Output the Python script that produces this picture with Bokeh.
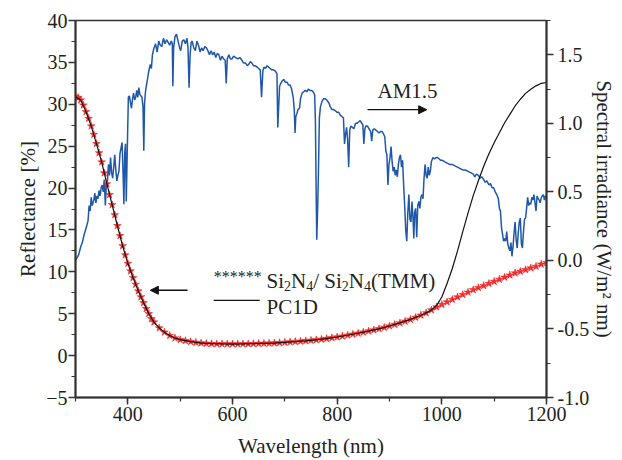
from bokeh.plotting import figure
from bokeh.models import (Range1d, LinearAxis, SingleIntervalTicker, NumeralTickFormatter,
                          Label, Arrow, NormalHead)
from bokeh.embed import file_html
from bokeh.resources import INLINE

# ---------------- data ----------------
wl_tmm = [300, 305, 310, 315, 320, 325, 330, 335, 340, 345, 350, 355, 360, 365, 370, 375,
          380, 385, 390, 395, 400, 405, 410, 415, 420, 425, 430, 435, 440, 445, 450,
          460, 470, 480, 490, 500, 510, 520, 530, 540, 550, 560, 570, 580, 590, 600,
          610, 620, 630, 640, 650, 660, 670, 680, 690, 700, 710, 720, 730, 740, 750,
          760, 770, 780, 790, 800, 810, 820, 830, 840, 850, 860, 870, 880, 890, 900,
          910, 920, 930, 940, 950, 960, 970, 980, 990, 1000, 1010, 1020, 1030, 1040,
          1050, 1060, 1070, 1080, 1090, 1100, 1110, 1120, 1130, 1140, 1150, 1160, 1170,
          1180, 1190, 1200]
refl_tmm = [30.9, 30.8, 30.5, 29.9, 29.1, 28.3, 27.4, 26.4, 25.3, 24.2, 23.1, 21.8, 20.5,
            19.2, 18.0, 16.8, 15.5, 14.3, 13.1, 12.0, 11.0, 10.1, 9.3, 8.5, 7.7, 7.0, 6.3,
            5.6, 5.0, 4.4, 4.0, 3.3, 2.8, 2.4, 2.1, 1.9, 1.78, 1.66, 1.57, 1.5, 1.45, 1.42,
            1.4, 1.39, 1.38, 1.38, 1.38, 1.39, 1.4, 1.42, 1.44, 1.46, 1.48, 1.5, 1.54, 1.58,
            1.62, 1.67, 1.72, 1.77, 1.82, 1.88, 1.95, 2.03, 2.12, 2.22, 2.32, 2.43, 2.55,
            2.67, 2.8, 2.93, 3.06, 3.2, 3.36, 3.53, 3.71, 3.9, 4.1, 4.32, 4.56, 4.82, 5.1,
            5.45, 5.8, 6.1, 6.4, 6.7, 7.0, 7.28, 7.56, 7.85, 8.1, 8.35, 8.6, 8.85, 9.1,
            9.35, 9.6, 9.85, 10.05, 10.25, 10.45, 10.65, 10.9, 11.1]

wl_pc1d = [300, 310, 320, 330, 340, 350, 360, 370, 380, 390, 400, 410, 420, 430, 440, 450,
           460, 470, 480, 490, 500, 520, 540, 560, 580, 600, 620, 640, 660, 680, 700, 720,
           740, 760, 780, 800, 820, 840, 860, 880, 900, 920, 940, 960, 970, 980, 990, 1000,
           1010, 1020, 1030, 1040, 1050, 1060, 1070, 1080, 1090, 1100, 1110, 1120, 1130,
           1140, 1150, 1160, 1170, 1180, 1190, 1200]
refl_pc1d = [30.9, 30.5, 29.1, 27.4, 25.3, 23.1, 20.5, 18.0, 15.5, 13.1, 11.0, 9.3, 7.7, 6.3,
             5.0, 4.0, 3.3, 2.8, 2.4, 2.1, 1.9, 1.66, 1.5, 1.42, 1.39, 1.38, 1.39, 1.42, 1.46,
             1.5, 1.58, 1.67, 1.77, 1.88, 2.03, 2.22, 2.43, 2.67, 2.93, 3.2, 3.53, 3.9, 4.32,
             4.82, 5.1, 5.45, 6.0, 7.0, 8.6, 10.4, 12.5, 14.8, 17.0, 19.1, 20.9, 22.6, 24.1,
             25.4, 26.6, 27.8, 28.8, 29.8, 30.6, 31.3, 31.8, 32.2, 32.5, 32.6]

wl_am = [300, 303, 306, 310, 313, 316, 319, 322, 324, 326, 328, 330, 332, 335, 337, 339, 341,
         343, 345, 347, 349, 351, 353, 355, 357, 359, 361, 363, 365, 367, 369, 371, 373, 375,
         377, 379, 381, 383, 385, 387, 389, 391, 392.5, 394, 395.5, 397, 399, 401, 403, 405,
         407, 409, 411, 413, 415, 417, 419, 421, 423, 425, 427, 429, 430.5, 432, 434, 437,
         440, 443, 445, 447, 450, 453, 456, 459, 462, 465, 468, 471, 474, 477, 480, 483, 485,
         486, 487.5, 490, 493, 496, 499, 501, 504, 507, 510, 513, 515, 517, 519, 521, 523,
         526, 529, 532, 535, 538, 541, 544, 547, 550, 553, 556, 559, 562, 565, 568, 571, 574,
         577, 580, 583, 586, 588, 590, 593, 596, 599, 602, 606, 610, 614, 618, 621, 625, 628,
         631, 634, 637, 640, 644, 647, 650, 653, 655.5, 658, 660, 663, 666, 669, 672, 675,
         678, 682, 685, 686.5, 688, 690, 692, 695, 698, 701, 704, 707, 710, 713, 716, 718,
         719.5, 721, 723, 725, 728, 730, 733, 736, 739, 742, 745, 748, 751, 754, 757, 758.5,
         760, 761, 762.5, 764, 766, 768, 771, 774, 777, 780, 784, 787, 790, 793, 797, 800,
         803, 806, 809, 812, 814, 816, 818, 820, 822, 824, 826, 829, 832, 835, 838, 841, 844,
         847, 849, 851, 853, 855, 858, 861, 864, 866, 868, 871, 874, 877, 880, 883, 886, 889,
         891, 893, 895, 897, 899, 901, 903, 905, 907, 909, 911, 913, 915, 917, 919, 921, 923,
         925, 927, 929, 931, 933, 935, 937, 939, 941, 943, 945, 946.5, 948, 950, 952, 954,
         956, 958, 960, 962, 964, 966, 968, 970, 972, 974, 976, 978, 980, 983, 986, 989, 992,
         995, 998, 1001, 1005, 1010, 1015, 1020, 1025, 1030, 1035, 1040, 1045, 1050, 1055,
         1060, 1063, 1066, 1070, 1073, 1076, 1080, 1083, 1086, 1090, 1093, 1096, 1099, 1102,
         1105, 1108, 1110, 1112, 1114, 1116, 1118, 1120, 1122, 1124, 1126, 1128, 1130, 1132,
         1134, 1136, 1138, 1140, 1142, 1144, 1146, 1148, 1150, 1152, 1154, 1156, 1158, 1160,
         1162, 1164, 1166, 1168, 1170, 1172, 1174, 1176, 1178, 1180, 1182, 1184, 1186, 1188,
         1190, 1192, 1194, 1196, 1198, 1200]
irr_am = [0.00, 0.02, 0.04, 0.10, 0.13, 0.18, 0.22, 0.26, 0.29, 0.40, 0.36, 0.46, 0.40, 0.44,
          0.49, 0.42, 0.47, 0.45, 0.51, 0.47, 0.53, 0.55, 0.50, 0.59, 0.40, 0.56, 0.58, 0.70,
          0.62, 0.75, 0.64, 0.60, 0.68, 0.77, 0.66, 0.58, 0.62, 0.65, 0.78, 0.82, 0.86, 0.62,
          0.41, 0.78, 0.85, 0.43, 0.82, 1.19, 1.20, 1.15, 1.11, 1.18, 1.22, 1.17, 1.19, 1.24,
          1.19, 1.26, 1.21, 1.20, 1.19, 1.12, 0.80, 1.15, 1.24, 1.31, 1.38, 1.43, 1.40, 1.50,
          1.55, 1.58, 1.52, 1.60, 1.57, 1.56, 1.62, 1.58, 1.61, 1.59, 1.57, 1.60, 1.58, 1.27,
          1.55, 1.63, 1.65, 1.60, 1.55, 1.53, 1.60, 1.61, 1.58, 1.62, 1.55, 1.26, 1.50, 1.59,
          1.60, 1.55, 1.53, 1.60, 1.57, 1.52, 1.55, 1.53, 1.56, 1.55, 1.53, 1.50, 1.53, 1.50,
          1.52, 1.48, 1.51, 1.50, 1.46, 1.49, 1.47, 1.46, 1.29, 1.47, 1.50, 1.47, 1.47, 1.49,
          1.48, 1.47, 1.48, 1.46, 1.44, 1.44, 1.42, 1.43, 1.45, 1.44, 1.42, 1.42, 1.41, 1.40,
          1.39, 1.19, 1.38, 1.41, 1.40, 1.42, 1.41, 1.40, 1.39, 1.39, 1.38, 1.36, 0.97, 1.10,
          1.27, 1.29, 1.31, 1.32, 1.30, 1.30, 1.28, 1.28, 1.25, 1.19, 1.10, 0.93, 1.05, 1.07,
          1.10, 1.11, 1.18, 1.22, 1.23, 1.24, 1.23, 1.25, 1.24, 1.24, 1.23, 1.21, 1.00, 0.45,
          0.15, 0.35, 0.60, 1.04, 1.12, 1.16, 1.18, 1.18, 1.17, 1.15, 1.12, 1.10, 1.10, 1.09,
          1.08, 1.08, 1.06, 1.05, 1.04, 0.85, 0.92, 0.97, 0.88, 0.68, 0.95, 0.98, 0.97, 0.96,
          1.00, 1.00, 1.01, 1.02, 1.00, 0.99, 0.85, 0.96, 0.98, 0.98, 0.96, 0.94, 0.87, 0.95,
          0.96, 0.95, 0.94, 0.93, 0.94, 0.94, 0.92, 0.90, 0.80, 0.77, 0.55, 0.70, 0.75, 0.83,
          0.72, 0.65, 0.68, 0.62, 0.66, 0.61, 0.70, 0.75, 0.77, 0.68, 0.73, 0.55, 0.40, 0.22,
          0.14, 0.35, 0.48, 0.30, 0.28, 0.43, 0.30, 0.16, 0.35, 0.38, 0.17, 0.40, 0.43, 0.38,
          0.46, 0.48, 0.45, 0.60, 0.70, 0.62, 0.60, 0.68, 0.62, 0.65, 0.72, 0.75, 0.74, 0.75,
          0.75, 0.74, 0.73, 0.73, 0.72, 0.71, 0.70, 0.70, 0.69, 0.68, 0.67, 0.66, 0.66, 0.65,
          0.64, 0.63, 0.61, 0.63, 0.62, 0.60, 0.61, 0.59, 0.57, 0.58, 0.55, 0.56, 0.53, 0.53,
          0.50, 0.48, 0.45, 0.38, 0.36, 0.24, 0.19, 0.14, 0.16, 0.14, 0.21, 0.12, 0.09, 0.07,
          0.13, 0.03, 0.10, 0.20, 0.28, 0.15, 0.09, 0.20, 0.28, 0.31, 0.12, 0.09, 0.21, 0.30,
          0.31, 0.38, 0.46, 0.40, 0.42, 0.41, 0.46, 0.44, 0.48, 0.42, 0.36, 0.47, 0.45, 0.44,
          0.42, 0.46, 0.47, 0.48, 0.44, 0.47, 0.46]

# ---------------- styling ----------------
FONT = "Liberation Serif"
TXT = "#231f20"
AXC = "#333333"

p = figure(width=622, height=460, output_backend="svg", toolbar_location=None,
           x_range=Range1d(300, 1200), y_range=Range1d(-5, 40),
           min_border_left=75, min_border_right=76, min_border_top=20, min_border_bottom=63)
p.extra_y_ranges = {"irr": Range1d(-1.0, 1.75)}
p.grid.visible = False
p.outline_line_color = AXC
p.outline_line_width = 1.5
p.background_fill_color = "white"
p.border_fill_color = "white"

right = LinearAxis(y_range_name="irr")
p.add_layout(right, "right")


def style(ax, label, interval, standoff, lstandoff):
    ax.axis_label = label
    ax.ticker = SingleIntervalTicker(interval=interval, num_minor_ticks=2)
    ax.axis_line_width = 2
    ax.axis_line_color = AXC
    ax.major_tick_in = 0
    ax.major_tick_out = 7
    ax.minor_tick_in = 0
    ax.minor_tick_out = 4
    ax.major_tick_line_width = 1.5
    ax.minor_tick_line_width = 1.2
    ax.major_tick_line_color = AXC
    ax.minor_tick_line_color = AXC
    ax.major_label_text_font = FONT
    ax.major_label_text_font_size = "20px"
    ax.major_label_text_color = TXT
    ax.major_label_standoff = standoff
    ax.axis_label_text_font = FONT
    ax.axis_label_text_font_size = "21px"
    ax.axis_label_text_font_style = "normal"
    ax.axis_label_text_color = TXT
    ax.axis_label_standoff = lstandoff


style(p.xaxis[0], "Wavelength (nm)", 200, 2, 10)
style(p.yaxis[0], "Reflectance [%]", 5, 1, 3)
style(right, "Spectral irradiance (W/m\u00b2 nm)", 0.5, 4, 0)
right.formatter = NumeralTickFormatter(format="0.0")

# ---------------- curves ----------------
p.line(wl_am, irr_am, y_range_name="irr", line_color="#1f58a8", line_width=1.5)
p.scatter(wl_tmm, refl_tmm, marker="star", size=8, fill_color="#ff2b2b",
          line_color="#e01b1b", line_width=0.5)
p.line(wl_pc1d, refl_pc1d, line_color="#111111", line_width=1.2)

# ---------------- annotations ----------------
p.add_layout(Label(x=877, y=31.6, text="AM1.5", text_font=FONT, text_font_size="21px",
                   text_color=TXT, text_baseline="alphabetic"))
p.add_layout(Arrow(x_start=858, y_start=29.35, x_end=971, y_end=29.35, line_width=1.3,
                   line_color="#111111",
                   end=NormalHead(size=8, fill_color="#111111", line_color="#111111")))
p.add_layout(Arrow(x_start=514, y_start=7.8, x_end=443, y_end=7.8, line_width=1.3,
                   line_color="#111111",
                   end=NormalHead(size=8, fill_color="#111111", line_color="#111111")))

# legend
p.add_layout(Label(x=564, y=8.88, y_offset=5, text="******", text_font=FONT,
                   text_font_size="16px", text_color=TXT, text_baseline="alphabetic"))
pieces = [("Si", 0, "21px", 0), ("2", 17.5, "14px", -5), ("N", 24.5, "21px", 0),
          ("4", 39.7, "14px", -5), ("/ Si", 46.7, "21px", 0), ("2", 75.3, "14px", -5),
          ("N", 82.3, "21px", 0), ("4", 97.5, "14px", -5), ("(TMM)", 104.5, "21px", 0)]
for txt, dx, fs, dy in pieces:
    p.add_layout(Label(x=665, y=8.88, x_offset=dx, y_offset=dy, text=txt, text_font=FONT,
                       text_font_size=fs, text_color=TXT, text_baseline="alphabetic"))
p.add_layout(Arrow(x_start=564, y_start=6.6, x_end=652, y_end=6.6, line_width=1.3,
                   line_color="#111111", start=None, end=None))
p.add_layout(Label(x=665, y=5.77, text="PC1D", text_font=FONT, text_font_size="21px",
                   text_color=TXT, text_baseline="alphabetic"))

open("out.html", "w").write(file_html(p, INLINE))
